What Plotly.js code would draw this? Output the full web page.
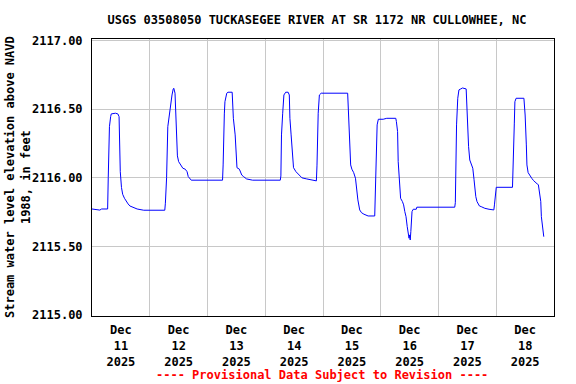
<!DOCTYPE html>
<html>
<head>
<meta charset="utf-8">
<script src="https://cdn.plot.ly/plotly-3.0.1.min.js"></script>
<style>html,body{margin:0;padding:0;background:#fff;}#chart{width:576px;height:384px;}</style>
</head>
<body>
<div id="chart"></div>
<script>
const chartTitle = "USGS 03508050 TUCKASEGEE RIVER AT SR 1172 NR CULLOWHEE, NC";
const yAxisTitle = "Stream water level elevation above NAVD<br>1988, in feet";
const footerText = "---- Provisional Data Subject to Revision ----";

const times = [
"2025-12-11 00:00","2025-12-11 03:15","2025-12-11 04:00","2025-12-11 06:30","2025-12-11 06:45","2025-12-11 07:15","2025-12-11 07:45","2025-12-11 08:00","2025-12-11 09:45","2025-12-11 10:45","2025-12-11 11:15","2025-12-11 11:45","2025-12-11 12:15","2025-12-11 12:45","2025-12-11 13:30","2025-12-11 14:15","2025-12-11 15:00","2025-12-11 15:45","2025-12-11 17:00","2025-12-11 18:45","2025-12-11 21:30",
"2025-12-12 06:15","2025-12-12 06:30","2025-12-12 07:00","2025-12-12 07:30","2025-12-12 08:00","2025-12-12 08:45","2025-12-12 09:15","2025-12-12 09:45","2025-12-12 10:00","2025-12-12 10:30","2025-12-12 10:45","2025-12-12 11:15","2025-12-12 11:30","2025-12-12 12:00","2025-12-12 12:45","2025-12-12 13:15","2025-12-12 13:45","2025-12-12 14:45","2025-12-12 15:30","2025-12-12 16:00","2025-12-12 17:15",
"2025-12-13 06:15","2025-12-13 06:30","2025-12-13 07:00","2025-12-13 07:15","2025-12-13 08:00","2025-12-13 08:30","2025-12-13 10:15","2025-12-13 10:45","2025-12-13 11:30","2025-12-13 12:00","2025-12-13 12:15","2025-12-13 13:15","2025-12-13 13:45","2025-12-13 14:15","2025-12-13 15:00","2025-12-13 16:15","2025-12-13 18:45",
"2025-12-14 06:15","2025-12-14 06:30","2025-12-14 06:45","2025-12-14 07:15","2025-12-14 07:45","2025-12-14 08:30","2025-12-14 09:30","2025-12-14 10:00","2025-12-14 10:15","2025-12-14 10:45","2025-12-14 11:15","2025-12-14 11:45","2025-12-14 12:45","2025-12-14 13:30","2025-12-14 14:30","2025-12-14 15:15","2025-12-14 17:15","2025-12-14 21:00","2025-12-14 21:15","2025-12-14 21:30","2025-12-14 22:00","2025-12-14 22:30","2025-12-14 23:15",
"2025-12-15 10:15","2025-12-15 10:30","2025-12-15 11:00","2025-12-15 11:30","2025-12-15 12:00","2025-12-15 12:45","2025-12-15 13:30","2025-12-15 14:00","2025-12-15 14:30","2025-12-15 15:15","2025-12-15 16:00","2025-12-15 17:00","2025-12-15 18:45","2025-12-15 21:30","2025-12-15 21:45","2025-12-15 22:15","2025-12-15 22:30","2025-12-15 23:00",
"2025-12-16 01:00","2025-12-16 02:30","2025-12-16 06:15","2025-12-16 06:30","2025-12-16 07:00","2025-12-16 07:15","2025-12-16 07:45","2025-12-16 08:15","2025-12-16 09:00","2025-12-16 09:30","2025-12-16 10:00","2025-12-16 10:30","2025-12-16 11:00","2025-12-16 11:30","2025-12-16 11:45","2025-12-16 12:00","2025-12-16 12:15","2025-12-16 12:30","2025-12-16 12:45","2025-12-16 13:00","2025-12-16 13:30","2025-12-16 14:45","2025-12-16 15:00",
"2025-12-17 06:45","2025-12-17 07:00","2025-12-17 07:15","2025-12-17 07:30","2025-12-17 08:00","2025-12-17 08:30","2025-12-17 09:15","2025-12-17 10:00","2025-12-17 11:30","2025-12-17 11:45","2025-12-17 12:15","2025-12-17 12:30","2025-12-17 13:00","2025-12-17 13:30","2025-12-17 14:15","2025-12-17 14:45","2025-12-17 15:00","2025-12-17 15:30","2025-12-17 16:00","2025-12-17 16:30","2025-12-17 17:00","2025-12-17 17:45","2025-12-17 19:15","2025-12-17 21:00","2025-12-17 22:15","2025-12-17 23:00","2025-12-17 23:15","2025-12-17 23:30","2025-12-17 23:45",
"2025-12-18 00:00","2025-12-18 06:45","2025-12-18 07:00","2025-12-18 07:30","2025-12-18 07:45","2025-12-18 08:15","2025-12-18 11:30","2025-12-18 12:00","2025-12-18 12:30","2025-12-18 12:45","2025-12-18 13:15","2025-12-18 14:00","2025-12-18 14:45","2025-12-18 15:30","2025-12-18 16:15","2025-12-18 17:00","2025-12-18 17:30","2025-12-18 18:00","2025-12-18 18:30","2025-12-18 18:45","2025-12-18 19:15","2025-12-18 19:30","2025-12-18 19:45"
];

const elevation = [
2115.773,2115.765,2115.773,2115.773,2116.000,2116.373,2116.446,2116.466,2116.471,2116.466,2116.446,2116.045,2115.930,2115.880,2115.851,2115.827,2115.810,2115.795,2115.786,2115.773,2115.764,
2115.764,2115.815,2116.000,2116.373,2116.451,2116.536,2116.604,2116.648,2116.653,2116.617,2116.530,2116.305,2116.160,2116.118,2116.100,2116.082,2116.070,2116.063,2116.045,2116.009,2115.983,
2115.983,2116.094,2116.466,2116.555,2116.617,2116.624,2116.624,2116.434,2116.313,2116.143,2116.074,2116.063,2116.038,2116.020,2116.009,2115.992,2115.983,
2115.983,2116.014,2116.313,2116.471,2116.604,2116.624,2116.624,2116.604,2116.434,2116.313,2116.143,2116.074,2116.045,2116.030,2116.014,2116.000,2115.992,2115.983,2115.978,2116.087,2116.471,2116.604,2116.617,
2116.617,2116.495,2116.276,2116.094,2116.063,2116.038,2115.997,2115.900,2115.839,2115.766,2115.746,2115.735,2115.722,2115.722,2115.917,2116.155,2116.386,2116.427,
2116.427,2116.434,2116.434,2116.410,2116.337,2116.118,2115.948,2115.851,2115.827,2115.803,2115.754,2115.717,2115.644,2115.584,2115.560,2115.584,2115.547,2115.608,2115.717,2115.754,2115.771,2115.771,2115.786,
2115.786,2115.819,2116.216,2116.386,2116.580,2116.641,2116.648,2116.655,2116.648,2116.531,2116.313,2116.227,2116.130,2116.106,2116.070,2115.990,2115.936,2115.863,2115.827,2115.810,2115.795,2115.790,2115.778,2115.771,2115.766,2115.766,2115.803,2115.875,2115.912,
2115.931,2115.931,2116.192,2116.393,2116.555,2116.580,2116.580,2116.458,2116.240,2116.094,2116.038,2116.014,2115.997,2115.980,2115.965,2115.956,2115.950,2115.875,2115.827,2115.717,2115.633,2115.600,2115.571
];

const xRange = ["2025-12-11 00:00", "2025-12-19 00:00"];
const yRange = [2114.993, 2117.012];

const font = {family: "DejaVu Sans Mono, Liberation Mono, monospace", size: 12, color: "#000", weight: "bold"};

const trace = {
  x: times, y: elevation, type: "scatter", mode: "lines",
  line: {color: "#0000ff", width: 1}, hoverinfo: "skip"
};

const layout = {
  width: 576, height: 384,
  margin: {l: 92, r: 22, t: 39, b: 68},
  paper_bgcolor: "#fff", plot_bgcolor: "#fff",
  font: font,
  showlegend: false,
  title: {
    text: chartTitle, font: font,
    xref: "container", yref: "container",
    x: 317/576, xanchor: "center", y: 1 - 20/384, yanchor: "middle"
  },
  xaxis: {
    type: "date", range: xRange,
    tick0: "2025-12-11", dtick: 86400000,
    ticklabelmode: "period", tickformat: "%b<br>%d<br>%Y",
    showgrid: true, gridcolor: "#c8c8c8", gridwidth: 1,
    showline: true, linecolor: "#000", linewidth: 1, mirror: true,
    ticks: "outside", ticklen: 3, tickcolor: "rgba(0,0,0,0)",
    zeroline: false, tickfont: font, fixedrange: true
  },
  yaxis: {
    range: yRange, tick0: 2115, dtick: 0.5, tickformat: ".2f",
    showgrid: true, gridcolor: "#c8c8c8", gridwidth: 1,
    showline: true, linecolor: "#000", linewidth: 1, mirror: true,
    ticks: "outside", ticklen: 6, tickcolor: "rgba(0,0,0,0)",
    zeroline: false, tickfont: font
  },
  annotations: [{
    text: yAxisTitle, xref: "paper", yref: "paper",
    x: -(92 - 17.5) / 462, y: 0.5, xanchor: "center", yanchor: "middle",
    textangle: -90, showarrow: false, font: font
  }, {
    text: footerText, xref: "paper", yref: "paper",
    x: 0.498, y: -(375-316)/277, xanchor: "center", yanchor: "middle",
    showarrow: false, font: {family: font.family, size: 12, color: "#ff0000", weight: "bold"}
  }]
};

Plotly.newPlot("chart", [trace], layout, {displayModeBar: false, staticPlot: true});
</script>
</body>
</html>
